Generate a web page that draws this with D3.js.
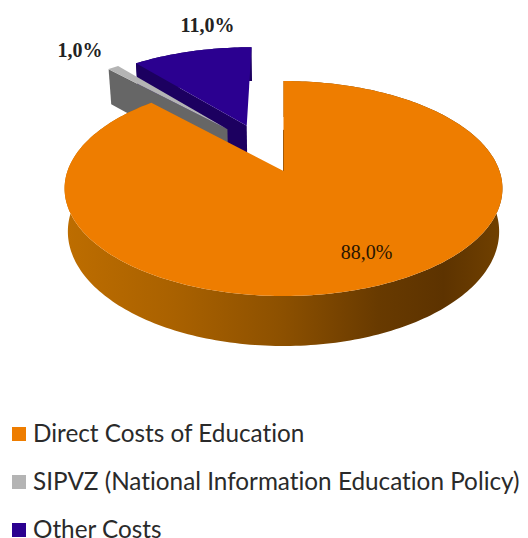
<!DOCTYPE html>
<html><head><meta charset="utf-8">
<script src="https://cdn.jsdelivr.net/npm/d3@7"></script>
<style>html,body{margin:0;padding:0;background:#fff}svg{display:block}</style>
</head><body><svg id="c" width="528" height="538"></svg>
<script>
const categories = ["Direct Costs of Education","SIPVZ (National Information Education Policy)","Other Costs"];
const values = [88.0,1.0,11.0];
const valueLabels = ["88,0%","1,0%","11,0%"];
const topColors = ["#ee7d00","#b4b4b4","#2b0090"];
const wallColors = ["#8f5200","#666666","#1c0060"];
const explodeAmount = [0,0.51,0.5];
const explodeAngle = [0,-33,-21.5];

const svg = d3.select("#c");
const k = -0.163, DEPTH = 41.85, SHRINK = 0.985;
const xs = d3.scaleLinear().domain([-1,1]).range([283.5-216,283.5+216]);
const ys = d3.scaleLinear().domain([-1,1]).range([171-104.65,171+104.65]);
function topPt(u,v){const w=1+k*v;return [xs(u/w),ys(v/w)];}
function botPt(u,v){const w=1+k*v,p=topPt(u,v);
  return [xs(0)+(p[0]-xs(0))*SHRINK,p[1]+DEPTH/w];}
const line = d3.line();

const arcs = d3.pie().sort(null).value(d=>d)(values);

function rim(a,off,r){return [off[0]+(r==null?1:r)*Math.sin(a),off[1]-(r==null?1:r)*Math.cos(a)];}
function angles(a0,a1){const n=Math.max(4,Math.ceil((a1-a0)/0.02));return d3.range(n+1).map(i=>a0+(a1-a0)*i/n);}

const grad = svg.append("defs").append("linearGradient").attr("id","sideGrad")
  .attr("gradientUnits","userSpaceOnUse").attr("x1",xs(-1)).attr("x2",xs(1)).attr("y1",0).attr("y2",0);
[[0,"#bd6d00"],[0.25,"#a96100"],[0.5,"#8c5000"],[0.72,"#683a00"],[0.87,"#5d3300"],[1,"#704000"]]
  .forEach(s=>grad.append("stop").attr("offset",s[0]).attr("stop-color",s[1]));

function offsetOf(i){const t=explodeAngle[i]*Math.PI/180,e=explodeAmount[i];return [e*Math.sin(t),-e*Math.cos(t)];}

[2,1,0].forEach(i=>{
  const a=arcs[i], off=offsetOf(i), as=angles(a.startAngle,a.endAngle);
  const rimUV=as.map(t=>rim(t,off));
  if(i===0){
    const face=rimUV.map(p=>topPt(p[0],p[1])).concat(rimUV.slice().reverse().map(p=>botPt(p[0],p[1])));
    svg.append("path").attr("d",line(face)+"Z").attr("fill","url(#sideGrad)");
    const inner=[topPt(...rim(a.startAngle,off,0.42)),topPt(...off)];
    svg.append("path").attr("d",line(inner)).attr("stroke","#5a3a10").attr("stroke-width",1).attr("fill","none");
  } else {
    const left=rim(a.startAngle,off);
    const wall=[topPt(...left),topPt(...off),botPt(...off),botPt(...left)];
    svg.append("path").attr("d",line(wall)+"Z").attr("fill",wallColors[i]);
    if(i===2){
      const f=rimUV.map(p=>topPt(p[0],p[1])).concat(rimUV.slice().reverse().map(p=>botPt(p[0],p[1])));
      svg.append("path").attr("d",line(f)+"Z").attr("fill",wallColors[i]);
    }
  }
  const top=[topPt(...off)].concat(rimUV.map(p=>topPt(p[0],p[1])));
  svg.append("path").attr("d",line(top)+"Z").attr("fill",topColors[i]);
});

const labelX=[366.5,80,207.5], labelY=[259,57,32], labelW=["normal","bold","bold"];
valueLabels.forEach((t,i)=>svg.append("text").text(t).attr("x",labelX[i]).attr("y",labelY[i])
  .attr("text-anchor","middle").attr("font-family","Liberation Serif").attr("font-size",20)
  .attr("font-weight",labelW[i]).attr("fill",i===0?"#2a1500":"#222"));

const legY=d3.scalePoint().domain(categories).range([434,530]);
categories.forEach((c,i)=>{
  svg.append("rect").attr("x",12).attr("y",legY(c)-7).attr("width",14).attr("height",14).attr("fill",topColors[i]);
  svg.append("text").text(c).attr("x",33).attr("y",legY(c)+7.5).attr("font-family","Lato").attr("font-size",24.3)
    .style("font-variant-ligatures","none").attr("fill","#2a2a2a");
});
</script></body></html>
